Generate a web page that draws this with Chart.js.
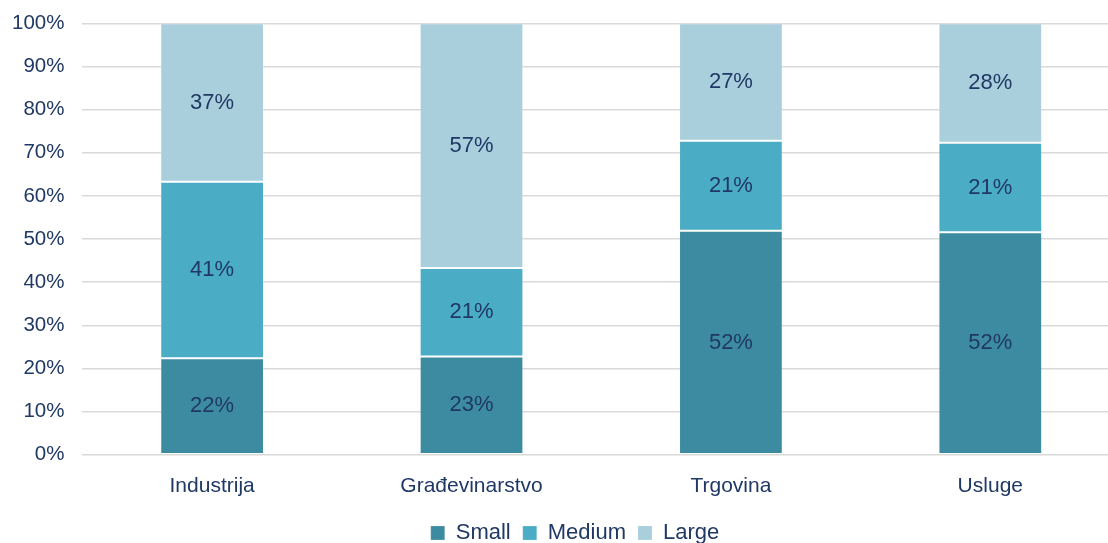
<!DOCTYPE html>
<html>
<head>
<meta charset="utf-8">
<script src="https://cdn.jsdelivr.net/npm/chart.js@4.4.1/dist/chart.umd.min.js"></script>
<style>
    html, body { margin: 0; padding: 0; background: #fff; overflow: hidden; }
    #wrap { position: relative; width: 1126px; height: 561px; margin-left: -6px; margin-top: -7px; }
</style>
</head>
<body>
<div id="wrap"><canvas id="barChart"></canvas></div>
<script>
// data //
var categories = ['Industrija', 'Građevinarstvo', 'Trgovina', 'Usluge'];
var small = [22.4, 22.8, 51.9, 51.6];
var medium = [40.9, 20.5, 20.9, 20.7];
var large = [36.7, 56.7, 27.2, 27.7];
var yTicks = [0, 10, 20, 30, 40, 50, 60, 70, 80, 90, 100];
// data //

var textColor = '#1F3864';
var fontName = '"Liberation Sans", Arial, sans-serif';
var edge = 'rgba(255, 255, 255, 0.2)';

// 在每個區塊中間畫百分比
var segmentLabels = {
    id: 'segmentLabels',
    afterDatasetsDraw: function (chart) {
        var ctx = chart.ctx;
        ctx.save();
        ctx.font = '22px ' + fontName;
        ctx.fillStyle = textColor;
        ctx.textAlign = 'center';
        ctx.textBaseline = 'middle';
        chart.data.datasets.forEach(function (ds, i) {
            chart.getDatasetMeta(i).data.forEach(function (bar, j) {
                var mid = (bar.y + bar.base) / 2;
                ctx.fillText(Math.round(ds.data[j]) + '%', bar.x, mid);
            });
        });
        ctx.restore();
    }
};

// legend 稍微往右移
var legendShift = {
    id: 'legendShift',
    afterLayout: function (chart) {
        chart.legend.left += 18;
        chart.legend.right += 18;
    }
};

var ctx = document.getElementById('barChart').getContext('2d');
var myBarChart = new Chart(ctx, {
    type: 'bar',
    data: {
        labels: categories,
        datasets: [{
            label: 'Small',
            data: small,
            backgroundColor: '#3D8BA1',
            borderColor: edge,
            borderWidth: 1,
            borderSkipped: false
        }, {
            label: 'Medium',
            data: medium,
            backgroundColor: '#4BACC6',
            borderColor: edge,
            borderWidth: 1,
            borderSkipped: false
        }, {
            label: 'Large',
            data: large,
            backgroundColor: '#A9CFDD',
            borderColor: edge,
            borderWidth: 1,
            borderSkipped: false
        }]
    },
    options: {
        responsive: true,
        maintainAspectRatio: false,
        animation: false,
        layout: {
            padding: { top: 3, left: 0, right: 0, bottom: 0 }
        },
        categoryPercentage: 0.8,
        barPercentage: 0.5,
        plugins: {
            tooltip: { enabled: false },
            legend: {
                position: 'bottom',
                labels: {
                    color: textColor,
                    font: { family: fontName, size: 22 },
                    boxWidth: 14,
                    boxHeight: 14,
                    padding: 12
                }
            }
        },
        scales: {
            x: {
                stacked: true,
                grid: { display: false },
                border: { display: false },
                ticks: {
                    color: textColor,
                    font: { family: fontName, size: 21 },
                    padding: 11
                }
            },
            y: {
                stacked: true,
                min: 0,
                max: 100,
                afterBuildTicks: function (axis) {
                    axis.ticks = yTicks.map(function (v) { return { value: v }; });
                },
                grid: {
                    color: '#D9D9D9',
                    lineWidth: 1.5,
                    drawTicks: false
                },
                border: { display: false },
                ticks: {
                    color: textColor,
                    font: { family: fontName, size: 20.5 },
                    padding: 18,
                    callback: function (v) { return v + '%'; }
                }
            }
        }
    },
    plugins: [segmentLabels, legendShift]
});
</script>
</body>
</html>
